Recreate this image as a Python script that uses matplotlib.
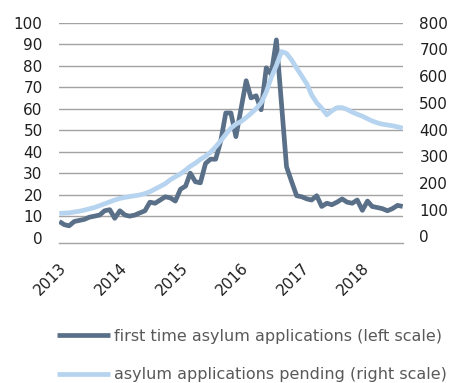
import matplotlib
matplotlib.use("Agg")
import matplotlib.pyplot as plt
import matplotlib.transforms as mtransforms
import pandas as pd

plt.rcParams['font.family'] = ['DejaVu Sans']

# Monthly series, January 2013 onwards
months = pd.date_range("2013-01-01", periods=69, freq="MS")

first_time = [
    7.5, 6, 5.5, 7.5, 8, 8.5, 9.5, 10, 10.5, 12.5,
    13, 9, 12.5, 10.5, 10, 10.5, 11.5, 12.5, 16.5, 16,
    17.5, 19, 18.5, 17, 22.5, 24, 30, 26, 25.5, 34.5,
    36.5, 36.5, 45, 58, 58, 47, 60, 73, 65, 66,
    59.5, 79, 76, 92, 62, 33, 26, 19.5, 19, 18,
    17.5, 19.5, 14.5, 16, 15.3, 16.5, 18, 16.5, 16, 17.5,
    12.7, 17, 14.5, 14, 13.5, 12.5, 13.5, 15, 14.5,
]

pending = [
    86, 87, 88, 91, 94, 98, 103, 108, 115, 122,
    129, 136, 142, 146, 149, 152, 155, 160, 167, 177,
    187, 197, 212, 223, 234, 248, 262, 274, 288, 300,
    315, 335, 358, 382, 405, 420, 430, 445, 460, 478,
    500, 540, 595, 640, 692, 685, 660, 630, 600, 570,
    530, 500, 480, 455, 470, 482, 482, 475, 465, 457,
    450, 440, 432, 425, 420, 417, 414, 410, 405,
]

year_labels = ["2013", "2014", "2015", "2016", "2017", "2018"]
left_ticks = list(range(0, 101, 10))
right_ticks = list(range(0, 801, 100))

dark = "#5a7088"
light = "#b6d3ef"
grid_col = "#a3a3a3"
text_col = "#1f1f1f"

fig = plt.figure(figsize=(4.51, 3.83), dpi=100)
ax = fig.add_axes([59.3 / 451, 1 - 243 / 383, (402.7 - 59.3) / 451, (243 - 22.7) / 383])
ax2 = ax.twinx()

l1, = ax.plot(months, first_time, color=dark, lw=3.4, solid_joinstyle="round",
              solid_capstyle="butt", label="first time asylum applications (left scale)")
l2, = ax2.plot(months, pending, color=light, lw=3.4, solid_joinstyle="round",
               solid_capstyle="butt", label="asylum applications pending (right scale)")

ax.set_xlim(months[0], months[-1])
ax.set_ylim(-2.5, 100)
ax2.set_ylim(-25, 800)

ax.set_yticks(left_ticks)
ax2.set_yticks(right_ticks)
ax.tick_params(axis="y", length=0, pad=12, labelsize=11, labelcolor=text_col)
ax2.tick_params(axis="y", length=0, pad=12, labelsize=11, labelcolor=text_col)

year_pos = [pd.Timestamp(f"{y}-01-01") for y in year_labels]
ax.set_xticks(year_pos)
ax.set_xticklabels(year_labels, rotation=45, ha="right", va="center",
                   rotation_mode="anchor", fontsize=11, color=text_col)
ax.tick_params(axis="x", length=0, pad=16)
shift = mtransforms.ScaledTranslation(5 / 100, 0, fig.dpi_scale_trans)
for lab in ax.get_xticklabels():
    lab.set_transform(lab.get_transform() + shift)

ax.yaxis.grid(True, color=grid_col, lw=1.0)
ax.yaxis.get_gridlines()[0].set_visible(False)
ax.set_axisbelow(True)

for a in (ax, ax2):
    for side in ("top", "left", "right"):
        a.spines[side].set_visible(False)
    a.spines["bottom"].set_color(grid_col)
    a.spines["bottom"].set_linewidth(1.0)
ax2.spines["bottom"].set_visible(False)

fig.legend(handles=[l1, l2], loc="upper left", bbox_to_anchor=(57 / 451, 1 - 328.5 / 383),
           frameon=False, fontsize=11.5, handlelength=3.3, handletextpad=0.3,
           labelspacing=1.5, borderpad=0, borderaxespad=0, labelcolor="#595959")

fig.savefig("out.png", dpi=100)
